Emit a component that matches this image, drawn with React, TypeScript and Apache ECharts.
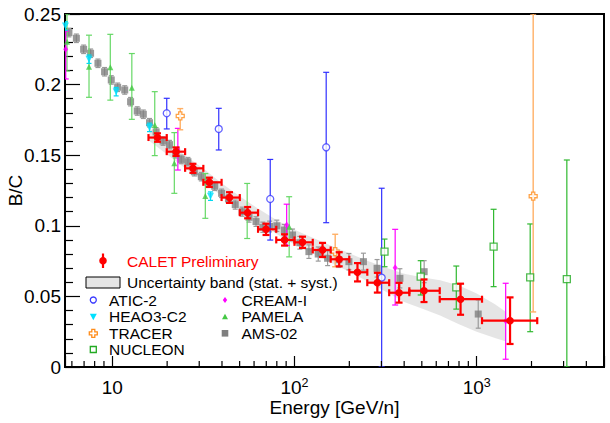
import React, { useEffect, useRef } from "react";
import * as echarts from "echarts";

const FONT = '"Liberation Sans", Arial, Helvetica, sans-serif';

// ---------------- data ----------------
const CALET_E = [17.7, 22.4, 27.7, 34.1, 44.0, 55.3, 69.8, 88.2, 110.7, 142.6, 176, 221.7, 285, 375, 514, 816, 1525];
const CALET_ELO = [15.8, 19.9, 25.1, 31.6, 39.8, 50.1, 63.1, 79.4, 100, 126, 158, 200, 251, 331, 427, 627, 1070];
const CALET_EHI = [19.9, 25.1, 31.6, 39.8, 50.1, 63.1, 79.4, 100, 126, 158, 200, 251, 331, 427, 627, 1070, 2150];
const CALET_V = [0.1625, 0.1525, 0.1407, 0.1308, 0.12, 0.1093, 0.0975, 0.09, 0.0883, 0.0829, 0.0763, 0.0671, 0.0597, 0.0526, 0.054, 0.048, 0.0328];
const CALET_LO = [0.1595, 0.1495, 0.1375, 0.1275, 0.1162, 0.1053, 0.0935, 0.086, 0.0843, 0.0779, 0.0713, 0.0606, 0.0527, 0.0456, 0.046, 0.037, 0.0163];
const CALET_HI = [0.1655, 0.1555, 0.1439, 0.1341, 0.1238, 0.1133, 0.1015, 0.094, 0.0923, 0.0879, 0.0813, 0.0736, 0.0667, 0.0596, 0.062, 0.059, 0.0493];

const BAND_E = [16, 20, 25, 32, 40, 50, 63, 80, 100, 126, 158, 200, 251, 316, 400, 500, 630, 800, 1000, 1260, 1450];
const BAND_LO = [0.16, 0.1505, 0.141, 0.131, 0.121, 0.112, 0.1028, 0.094, 0.0868, 0.0805, 0.074, 0.0675, 0.0608, 0.0535, 0.046, 0.0415, 0.0365, 0.0302, 0.025, 0.0205, 0.018];
const BAND_HI = [0.169, 0.1595, 0.15, 0.14, 0.13, 0.121, 0.1122, 0.104, 0.0972, 0.0915, 0.086, 0.0805, 0.0752, 0.0705, 0.066, 0.0635, 0.0615, 0.0578, 0.052, 0.0445, 0.039];

const ATIC_E = [19.9, 38.4, 73.6, 149.3, 301];
const ATIC_V = [0.1797, 0.1686, 0.119, 0.1556, 0.0633];
const ATIC_LO = [0.1686, 0.1537, 0.0899, 0.1022, 0];
const ATIC_HI = [0.1903, 0.1832, 0.147, 0.2087, 0.1266];

const HEAO_E = [5.53, 7.45, 10.5, 16.0, 34.6];
const HEAO_V = [0.2415, 0.218, 0.195, 0.1697, 0.121];
const HEAO_LO = [0.2385, 0.215, 0.192, 0.1667, 0.118];
const HEAO_HI = [0.2445, 0.221, 0.198, 0.1727, 0.124];

const TRACER_E = [23.6, 167.3, 2043];
const TRACER_V = [0.1778, 0.0817, 0.121];
const TRACER_LO = [0.168, 0.071, 0.039];
const TRACER_HI = [0.183, 0.094, 0.25];

const NUCLEON_E = [312, 493, 773, 1239, 1967, 3126];
const NUCLEON_V = [0.0817, 0.064, 0.0564, 0.0852, 0.0635, 0.0623];
const NUCLEON_LO = [0.071, 0.051, 0.041, 0.0569, 0.025, 0];
const NUCLEON_HI = [0.0906, 0.0753, 0.0715, 0.1117, 0.1013, 0.1466];

const CREAM_E = [5.55, 22.9, 90.6, 357, 1443];
const CREAM_V = [0.225, 0.1543, 0.1006, 0.0703, 0.0325];
const CREAM_LO = [0.204, 0.1395, 0.086, 0.0439, 0.0055];
const CREAM_HI = [0.238, 0.169, 0.1153, 0.0975, 0.0593];

const PAMELA_E = [5.64, 7.45, 9.75, 12.8, 17.1, 21.9, 32.4, 55, 93.5];
const PAMELA_V = [0.2304, 0.2127, 0.2122, 0.1978, 0.1714, 0.1443, 0.1211, 0.111, 0.0994];
const PAMELA_LO = [0.2096, 0.191, 0.189, 0.1754, 0.1497, 0.123, 0.1053, 0.091, 0.078];
const PAMELA_HI = [0.25, 0.235, 0.2356, 0.222, 0.195, 0.166, 0.137, 0.13, 0.1206];

const AMS_E = [5.78, 6.35, 6.96, 7.6, 8.34, 9.07, 9.87, 10.7, 11.7, 12.6, 13.7, 14.8, 16.0, 17.4, 19.0, 20.6, 22.3, 23.9, 26.0, 28.2, 30.8, 33.5, 36.5, 39.8, 43.4, 47.3, 51.6, 56.3, 61.5, 67.0, 73.0, 80.0, 88.0, 97.6, 107, 120, 135, 152, 175, 199, 239, 284, 379, 515, 1020];
const AMS_V = [0.2368, 0.2328, 0.225, 0.2222, 0.2151, 0.2091, 0.2033, 0.1981, 0.1962, 0.1879, 0.1813, 0.179, 0.173, 0.1665, 0.16, 0.1575, 0.151, 0.147, 0.1454, 0.1383, 0.1348, 0.131, 0.128, 0.123, 0.119, 0.115, 0.11, 0.106, 0.103, 0.099, 0.0995, 0.1, 0.097, 0.0935, 0.088, 0.0817, 0.08, 0.077, 0.076, 0.0746, 0.0746, 0.0699, 0.0628, 0.0675, 0.0375];
const AMS_ERR = [0.003, 0.003, 0.003, 0.003, 0.003, 0.003, 0.003, 0.003, 0.003, 0.003, 0.003, 0.003, 0.003, 0.003, 0.003, 0.003, 0.003, 0.003, 0.003, 0.003, 0.003, 0.003, 0.003, 0.003, 0.003, 0.0032, 0.0032, 0.0034, 0.0034, 0.0036, 0.0038, 0.004, 0.004, 0.0042, 0.0045, 0.0048, 0.005, 0.0052, 0.0055, 0.0058, 0.006, 0.0062, 0.0068, 0.0078, 0.01];

const X_MINOR_TICKS = [6, 7, 8, 9, 20, 30, 40, 50, 60, 70, 80, 90, 200, 300, 400, 500, 600, 700, 800, 900, 2000, 3000, 4000];

const LEGEND_COL1 = ["ATIC-2", "HEAO3-C2", "TRACER", "NUCLEON"];
const LEGEND_COL2 = ["CREAM-I", "PAMELA", "AMS-02"];

const BAND_FILL = "rgba(175,175,175,0.32)";

// ---------------- helpers ----------------
function errSeries(name: string, E: number[], V: number[], LO: number[], HI: number[], color: string, width: number, cap: number, z: number) {
  return {
    type: "custom",
    name,
    z,
    clip: true,
    silent: true,
    data: E.map((e, i) => [e, V[i], LO[i], HI[i]]),
    renderItem: (_p: any, api: any) => {
      const x = api.value(0);
      const lo = api.coord([x, api.value(2)]);
      const hi = api.coord([x, api.value(3)]);
      const st = { stroke: color, lineWidth: width };
      return {
        type: "group",
        children: [
          { type: "line", shape: { x1: lo[0], y1: lo[1], x2: hi[0], y2: hi[1] }, style: st },
          { type: "line", shape: { x1: lo[0] - cap, y1: lo[1], x2: lo[0] + cap, y2: lo[1] }, style: st },
          { type: "line", shape: { x1: hi[0] - cap, y1: hi[1], x2: hi[0] + cap, y2: hi[1] }, style: st },
        ],
      };
    },
  };
}

function markSeries(name: string, E: number[], V: number[], symbol: string, size: any, itemStyle: any, z: number, rotate = 0) {
  return {
    type: "scatter",
    name,
    z,
    silent: true,
    symbol,
    symbolSize: size,
    symbolRotate: rotate,
    itemStyle,
    data: E.map((e, i) => [e, V[i]]),
  };
}

const CROSS_PATH = "path://M3,0 L7,0 L7,3 L10,3 L10,7 L7,7 L7,10 L3,10 L3,7 L0,7 L0,3 L3,3 Z";

function buildOption() {
  const bandSeries = {
    type: "custom",
    name: "band",
    z: 1,
    silent: true,
    clip: true,
    data: BAND_E.map((e, i) => [e, BAND_LO[i], BAND_HI[i]]),
    renderItem: (params: any, api: any) => {
      if (params.dataIndex !== 0) return { type: "group", children: [] };
      const pts: number[][] = [];
      for (let i = 0; i < BAND_E.length; i++) pts.push(api.coord([BAND_E[i], BAND_HI[i]]));
      for (let i = BAND_E.length - 1; i >= 0; i--) pts.push(api.coord([BAND_E[i], BAND_LO[i]]));
      return {
        type: "polygon",
        shape: { points: pts },
        style: { fill: BAND_FILL, stroke: "none" },
      };
    },
  };

  const minorTicks = {
    type: "custom",
    name: "minorTicks",
    z: 20,
    silent: true,
    data: X_MINOR_TICKS.map((v) => [v, 0]),
    renderItem: (_p: any, api: any) => {
      const p = api.coord([api.value(0), 0]);
      return {
        type: "line",
        shape: { x1: p[0], y1: p[1], x2: p[0], y2: p[1] - 6 },
        style: { stroke: "#000", lineWidth: 1.2 },
      };
    },
  };

  const caletSeries = {
    type: "custom",
    name: "CALET Preliminary",
    z: 12,
    silent: true,
    clip: true,
    data: CALET_E.map((e, i) => [e, CALET_V[i], CALET_ELO[i], CALET_EHI[i], CALET_LO[i], CALET_HI[i]]),
    renderItem: (_p: any, api: any) => {
      const x = api.value(0);
      const y = api.value(1);
      const c = api.coord([x, y]);
      const l = api.coord([api.value(2), y]);
      const r = api.coord([api.value(3), y]);
      const lo = api.coord([x, api.value(4)]);
      const hi = api.coord([x, api.value(5)]);
      const st = { stroke: "#ff0000", lineWidth: 2.2 };
      const cap = 3.5;
      return {
        type: "group",
        children: [
          { type: "line", shape: { x1: l[0], y1: l[1], x2: r[0], y2: r[1] }, style: st },
          { type: "line", shape: { x1: l[0], y1: l[1] - cap, x2: l[0], y2: l[1] + cap }, style: st },
          { type: "line", shape: { x1: r[0], y1: r[1] - cap, x2: r[0], y2: r[1] + cap }, style: st },
          { type: "line", shape: { x1: lo[0], y1: lo[1], x2: hi[0], y2: hi[1] }, style: st },
          { type: "line", shape: { x1: lo[0] - cap, y1: lo[1], x2: lo[0] + cap, y2: lo[1] }, style: st },
          { type: "line", shape: { x1: hi[0] - cap, y1: hi[1], x2: hi[0] + cap, y2: hi[1] }, style: st },
          { type: "circle", shape: { cx: c[0], cy: c[1], r: 3.8 }, style: { fill: "#ff0000" } },
        ],
      };
    },
  };

  const txt = (x: number, y: number, text: string, fill = "#000") => ({
    type: "text",
    x,
    y,
    style: { text, fill, fontSize: 15.5, fontFamily: FONT, verticalAlign: "middle", align: "left" },
  });

  const c1x = 93.3, c2x = 225;
  const rows = [300, 316.7, 333.3, 349.5];
  const legend: any[] = [
    { type: "line", shape: { x1: 103, y1: 253.5, x2: 103, y2: 268 }, style: { stroke: "#ff0000", lineWidth: 2.2 } },
    { type: "circle", shape: { cx: 103, cy: 260.7, r: 3.8 }, style: { fill: "#ff0000" } },
    txt(127, 261, "CALET Preliminary", "#ff0000"),
    { type: "rect", shape: { x: 86, y: 277, width: 34, height: 11 }, style: { fill: BAND_FILL, stroke: "#000", lineWidth: 1 } },
    txt(127, 282, "Uncertainty band (stat. + syst.)"),
    // col 1
    { type: "circle", shape: { cx: c1x, cy: rows[0], r: 3 }, style: { fill: "#fff", stroke: "#3a3aff", lineWidth: 1.3 } },
    { type: "polygon", shape: { points: [[c1x - 3.5, rows[1] - 3], [c1x + 3.5, rows[1] - 3], [c1x, rows[1] + 3.5]] }, style: { fill: "#00e0ff" } },
    { type: "polygon", shape: { points: [[c1x - 1.5, rows[2] - 4], [c1x + 1.5, rows[2] - 4], [c1x + 1.5, rows[2] - 1.5], [c1x + 4, rows[2] - 1.5], [c1x + 4, rows[2] + 1.5], [c1x + 1.5, rows[2] + 1.5], [c1x + 1.5, rows[2] + 4], [c1x - 1.5, rows[2] + 4], [c1x - 1.5, rows[2] + 1.5], [c1x - 4, rows[2] + 1.5], [c1x - 4, rows[2] - 1.5], [c1x - 1.5, rows[2] - 1.5]] }, style: { fill: "#fff", stroke: "#ff8c1a", lineWidth: 1.3 } },
    { type: "rect", shape: { x: c1x - 3, y: rows[3] - 3, width: 6, height: 6 }, style: { fill: "#fff", stroke: "#22aa22", lineWidth: 1.3 } },
    txt(109, rows[0], LEGEND_COL1[0]),
    txt(109, rows[1], LEGEND_COL1[1]),
    txt(109, rows[2], LEGEND_COL1[2]),
    txt(109, rows[3], LEGEND_COL1[3]),
    // col 2
    { type: "polygon", shape: { points: [[c2x, rows[0] - 3], [c2x + 2.2, rows[0]], [c2x, rows[0] + 3], [c2x - 2.2, rows[0]]] }, style: { fill: "#ff00ff" } },
    { type: "polygon", shape: { points: [[c2x - 3, rows[1] + 2.5], [c2x + 3, rows[1] + 2.5], [c2x, rows[1] - 3]] }, style: { fill: "#44c844" } },
    { type: "rect", shape: { x: c2x - 3.3, y: rows[2] - 3.3, width: 6.6, height: 6.6 }, style: { fill: "#7f7f7f" } },
    txt(241.5, rows[0], LEGEND_COL2[0]),
    txt(241.5, rows[1], LEGEND_COL2[1]),
    txt(241.5, rows[2], LEGEND_COL2[2]),
  ];

  return {
    animation: false,
    backgroundColor: "#fff",
    textStyle: { fontFamily: FONT },
    grid: { left: 65, right: 6, top: 14, bottom: 56, show: true, borderColor: "#000", borderWidth: 2, backgroundColor: "transparent", containLabel: false, outerBoundsMode: "none" },
    xAxis: {
      type: "log",
      logBase: 10,
      min: 5.5,
      max: 5000,
      axisLine: { show: true, lineStyle: { color: "#000", width: 2 } },
      axisTick: { show: true, inside: true, length: 11, lineStyle: { color: "#000", width: 1.2 } },
      splitLine: { show: false },
      axisLabel: {
        color: "#000",
        margin: 10,
        formatter: (v: number) => {
          const lg = Math.log10(v);
          const e = Math.round(lg);
          if (Math.abs(lg - e) > 1e-6) return "";
          if (e === 1) return "{b|10}";
          return "{b|10}{s|" + e + "}";
        },
        rich: {
          b: { fontSize: 19, lineHeight: 21, fontFamily: FONT, color: "#000" },
          s: { fontSize: 12.5, lineHeight: 12, padding: [0, 0, 9, 0], fontFamily: FONT, color: "#000" },
        },
      },
      name: "Energy [GeV/n]",
      nameLocation: "middle",
      nameGap: 31,
      nameMoveOverlap: false,
      nameTextStyle: { fontSize: 19, color: "#000", fontFamily: FONT },
    },
    yAxis: {
      type: "value",
      min: 0,
      max: 0.25,
      interval: 0.05,
      axisLine: { show: true, lineStyle: { color: "#000", width: 2 } },
      axisTick: { show: true, inside: true, length: 15, lineStyle: { color: "#000", width: 1.2 } },
      minorTick: { show: true, splitNumber: 5, length: 8, lineStyle: { color: "#000", width: 1.2 } },
      splitLine: { show: false },
      axisLabel: { color: "#000", fontSize: 19, fontFamily: FONT, margin: 4 },
      name: "B/C",
      nameLocation: "middle",
      nameGap: 40,
      nameMoveOverlap: false,
      nameTextStyle: { fontSize: 19, color: "#000", fontFamily: FONT },
    },
    graphic: legend,
    series: [
      bandSeries,
      errSeries("AMS-02 err", AMS_E, AMS_V, AMS_V.map((v, i) => v - AMS_ERR[i]), AMS_V.map((v, i) => v + AMS_ERR[i]), "#9a9a9a", 1.2, 2.5, 3),
      markSeries("AMS-02", AMS_E, AMS_V, "rect", 7, { color: "#7f7f7f" }, 4),
      errSeries("PAMELA err", PAMELA_E, PAMELA_V, PAMELA_LO, PAMELA_HI, "#66d866", 1.2, 3, 5),
      markSeries("PAMELA", PAMELA_E, PAMELA_V, "triangle", 6, { color: "#44c844" }, 6),
      errSeries("CREAM err", CREAM_E, CREAM_V, CREAM_LO, CREAM_HI, "#ff00ff", 1.2, 3, 5),
      markSeries("CREAM-I", CREAM_E, CREAM_V, "diamond", [5, 7], { color: "#ff00ff" }, 6),
      errSeries("HEAO err", HEAO_E, HEAO_V, HEAO_LO, HEAO_HI, "#00d8f0", 1.2, 2.5, 5),
      markSeries("HEAO3-C2", HEAO_E, HEAO_V, "triangle", 7, { color: "#00e0ff" }, 6, 180),
      errSeries("NUCLEON err", NUCLEON_E, NUCLEON_V, NUCLEON_LO, NUCLEON_HI, "#2fb82f", 1.2, 3, 5),
      markSeries("NUCLEON", NUCLEON_E, NUCLEON_V, "rect", 7, { color: "#fff", borderColor: "#22aa22", borderWidth: 1.3 }, 6),
      errSeries("TRACER err", TRACER_E, TRACER_V, TRACER_LO, TRACER_HI, "#ffb066", 1.4, 3, 5),
      markSeries("TRACER", TRACER_E, TRACER_V, CROSS_PATH, 8, { color: "#fff", borderColor: "#ff8c1a", borderWidth: 1.3 }, 6),
      errSeries("ATIC err", ATIC_E, ATIC_V, ATIC_LO, ATIC_HI, "#3030ff", 1.2, 3, 5),
      markSeries("ATIC-2", ATIC_E, ATIC_V, "circle", 7, { color: "#fff", borderColor: "#3a3aff", borderWidth: 1.3 }, 6),
      caletSeries,
      minorTicks,
    ],
  };
}

export default function App() {
  const ref = useRef<HTMLDivElement>(null);
  useEffect(() => {
    if (!ref.current) return;
    const chart = echarts.init(ref.current, null, { renderer: "svg" });
    chart.setOption(buildOption() as any);
    return () => chart.dispose();
  }, []);
  return <div ref={ref} style={{ width: 610, height: 423, position: "absolute", left: 0, top: 0 }} />;
}
